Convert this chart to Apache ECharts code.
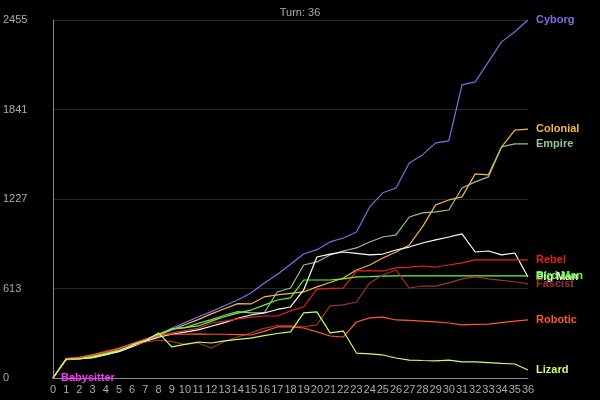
<!DOCTYPE html>
<html><head><meta charset="utf-8">
<script src="https://cdn.jsdelivr.net/npm/echarts@6/dist/echarts.min.js"></script>
<style>html,body{margin:0;background:#000}#c{width:600px;height:400px}</style></head>
<body><div id="c"></div>
<script>
const turns = Array.from({length:37},(_, i)=>String(i));
const names = ['Cyborg','Colonial','Empire','Pig Man','Rebel','Bird Man','Fascist','Robotic','Lizard','Babysitter'];
const colors = ['#7b6fe6','#f7b54a','#93c393','#ffffff','#e52222','#66ff33','#a33030','#ff5a28','#ccff66','#ff33ff'];
const cyborg = [0,135,140,155,175,195,235,265,300,340,380,418,455,495,535,583,650,710,780,850,880,933,960,1001,1173,1270,1303,1475,1530,1612,1626,2010,2031,2168,2305,2374,2455];
const colonial = [0,125,130,145,165,185,235,262,295,330,365,400,440,475,510,508,556,570,580,590,625,655,686,741,775,823,864,912,1036,1187,1221,1242,1400,1393,1585,1700,1707];
const empire = [0,130,138,150,170,190,225,258,290,335,345,375,400,430,455,446,446,590,617,775,796,844,871,892,933,967,981,1104,1132,1139,1152,1303,1345,1379,1585,1605,1605];
const pigman = [0,130,135,140,160,180,215,250,280,300,315,330,355,380,410,432,446,470,487,604,830,850,864,855,844,850,878,898,926,947,967,988,864,871,844,857,693];
const rebel = [0,132,140,150,175,200,235,262,290,310,325,340,377,390,405,418,425,425,460,487,610,615,617,734,734,734,755,761,768,761,775,789,810,810,810,810,810];
const birdman = [0,128,135,148,168,190,230,262,300,336,345,357,390,420,445,466,500,535,549,672,672,672,680,693,695,698,700,700,700,700,700,700,700,700,700,700,700];
const fascist = [0,128,140,160,185,200,225,245,260,250,230,240,206,250,281,309,340,360,360,350,364,494,501,521,652,706,741,617,631,630,652,680,693,680,670,660,645];
const robotic = [0,130,142,158,180,205,235,265,290,300,300,302,300,300,298,295,320,350,350,343,316,288,281,384,412,418,398,395,390,385,377,364,368,370,380,390,398];
const lizard = [0,130,132,140,160,185,225,255,309,213,230,247,240,255,265,274,290,305,316,446,453,309,322,171,165,158,137,123,120,118,123,110,110,105,100,96,55];
const babysitter = [0];
const seriesData = [cyborg,colonial,empire,pigman,rebel,birdman,fascist,robotic,lizard,babysitter];
const yTicks = [0,613,1227,1841,2455];
const chart = echarts.init(document.getElementById('c'));
chart.setOption({
  backgroundColor:'#000',
  animation:false,
  title:{text:'Turn: 36',left:'center',top:2,textStyle:{color:'#aaa',fontSize:11,fontWeight:'normal',fontFamily:'Liberation Sans'}},
  grid:{left:50,right:72,top:20,bottom:22},
  xAxis:{type:'category',data:turns,boundaryGap:false,
    axisLine:{lineStyle:{color:'#888'}},axisTick:{show:false},
    axisLabel:{color:'#aaa',fontSize:11,interval:0,margin:6,fontFamily:'Liberation Sans'},splitLine:{show:false}},
  yAxis:{type:'value',min:0,max:2455,interval:613.75,
    axisLine:{show:true,lineStyle:{color:'#888'}},axisTick:{show:false},
    axisLabel:{color:'#aaa',fontSize:11,fontFamily:'Liberation Sans',formatter:v=>String(yTicks[Math.round(v/613.75)]),
      align:'left',margin:50,verticalAlign:'middle'},
    splitLine:{lineStyle:{color:'#262626'}}},
  series: names.map((n,i)=>({
    name:n,type:'line',data:seriesData[i],symbol:'none',showSymbol:n==='Babysitter',symbolSize:0,
    lineStyle:{color:colors[i],width:1.2},itemStyle:{color:colors[i]},
    endLabel:{show:true,formatter:n,color:colors[i],fontSize:11,fontWeight:'bold',fontFamily:'Liberation Sans',distance:8},
    label: n==='Babysitter'?{show:true,position:'right',formatter:n,color:colors[i],fontSize:11,fontWeight:'bold',offset:[0,-1]}:undefined
  }))
});
</script></body></html>
